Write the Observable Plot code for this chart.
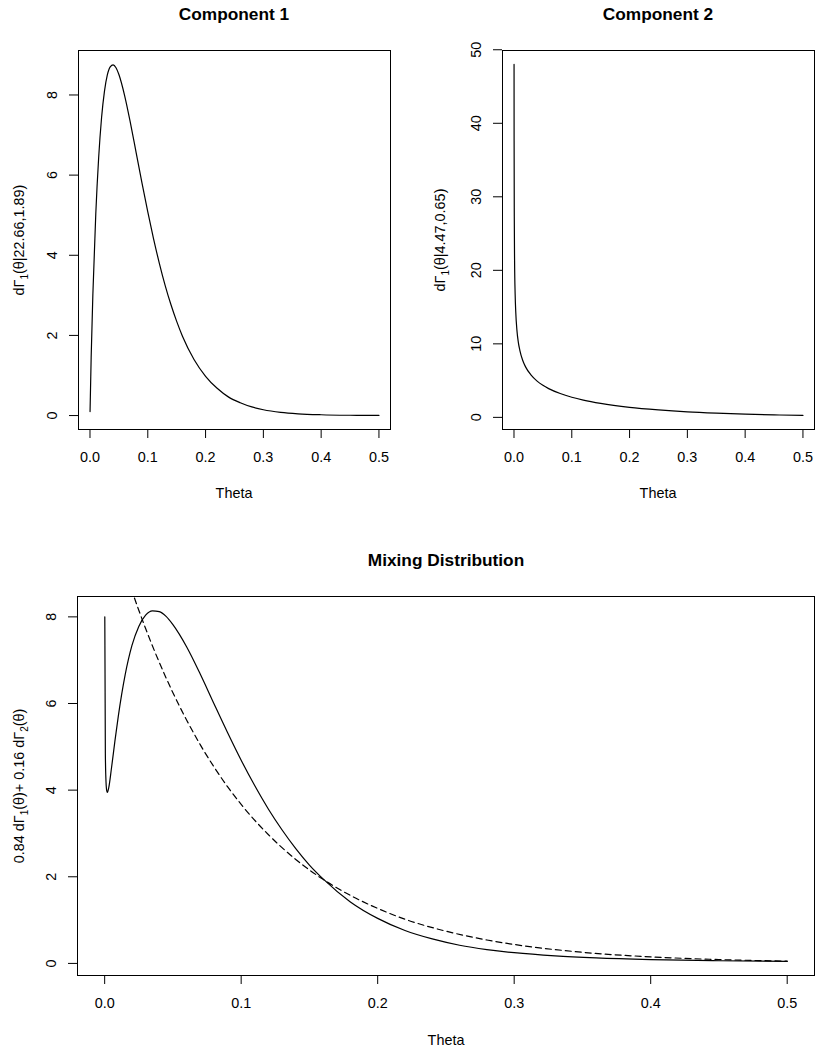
<!DOCTYPE html>
<html>
<head>
<meta charset="utf-8">
<script src="https://cdn.jsdelivr.net/npm/d3@7"></script>
<script src="https://cdn.jsdelivr.net/npm/@observablehq/plot@0.6"></script>
<style>
  html, body { margin: 0; padding: 0; background: #fff; }
  #wrap { position: relative; width: 817px; height: 1050px; background: #fff; overflow: hidden;
          font-family: "Liberation Sans", Arial, Helvetica, sans-serif; color: #000; }
  .panel { position: absolute; }
  .title { position: absolute; font-weight: bold; font-size: 17.3px; white-space: nowrap;
           transform: translate(-50%, -50%); line-height: 1; }
  .xlab { position: absolute; font-size: 14.4px; white-space: nowrap; transform: translate(-50%, -50%); line-height: 1; }
  .ylab { position: absolute; font-size: 14.4px; white-space: nowrap; line-height: 1;
          transform: translate(-50%, -50%) rotate(-90deg); }
  .sub { font-size: 10px; position: relative; top: 4px; }
</style>
</head>
<body>
<div id="wrap"></div>
<script>
// ---------- data ----------
const titles = ["Component 1", "Component 2", "Mixing Distribution"];
const xLabel = "Theta";
const xTicks = [0, 0.1, 0.2, 0.3, 0.4, 0.5];
const yTicksC1 = [0, 2, 4, 6, 8];
const yTicksC2 = [0, 10, 20, 30, 40, 50];
const yTicksMix = [0, 2, 4, 6, 8];

// Component 1 density
const thetaC1 = [0.0001, 0.002, 0.005, 0.01, 0.015, 0.02, 0.025, 0.03, 0.035, 0.04, 0.045, 0.05,
  0.06, 0.07, 0.08, 0.09, 0.1, 0.11, 0.12, 0.13, 0.14, 0.15, 0.16, 0.18, 0.2, 0.22, 0.24, 0.26,
  0.28, 0.3, 0.33, 0.36, 0.4, 0.45, 0.5];
const densC1 = [0.10, 1.44, 3.04, 5.03, 6.44, 7.43, 8.09, 8.50, 8.70, 8.75, 8.68, 8.51,
  7.98, 7.30, 6.55, 5.80, 5.08, 4.41, 3.80, 3.25, 2.77, 2.35, 1.98, 1.40, 0.98, 0.68, 0.46, 0.32,
  0.215, 0.145, 0.080, 0.044, 0.020, 0.007, 0.0025];

// Component 2 density
const thetaC2 = [0.0001, 0.0002, 0.0005, 0.001, 0.002, 0.003, 0.005, 0.0075, 0.01, 0.015, 0.02,
  0.03, 0.04, 0.05, 0.06, 0.08, 0.1, 0.12, 0.15, 0.2, 0.25, 0.3, 0.35, 0.4, 0.45, 0.5];
const densC2 = [48.0, 37.6, 27.3, 21.3, 16.7, 14.4, 11.9, 10.2, 9.16, 7.77, 6.87,
  5.70, 4.93, 4.36, 3.91, 3.24, 2.74, 2.35, 1.90, 1.37, 1.02, 0.76, 0.58, 0.44, 0.34, 0.26];

// Mixture density (solid)
const thetaMix = [0.0001, 0.0005, 0.001, 0.0015, 0.002, 0.003, 0.005, 0.0075, 0.01, 0.015, 0.02,
  0.025, 0.03, 0.035, 0.04, 0.045, 0.05, 0.06, 0.07, 0.08, 0.09, 0.1, 0.11, 0.12, 0.13, 0.14,
  0.15, 0.16, 0.18, 0.2, 0.22, 0.24, 0.26, 0.28, 0.3, 0.33, 0.36, 0.4, 0.45, 0.5];
const densMix = [8.00, 4.86, 4.18, 3.99, 3.95, 4.06, 4.51, 5.13, 5.71, 6.66, 7.34,
  7.78, 8.04, 8.14, 8.12, 8.01, 7.82, 7.31, 6.68, 6.00, 5.33, 4.69, 4.10, 3.56, 3.08, 2.65,
  2.27, 1.95, 1.42, 1.04, 0.76, 0.565, 0.42, 0.32, 0.247, 0.173, 0.127, 0.089, 0.062, 0.045];

// Comparison density (dashed)
const thetaExp = [0, 0.01, 0.02, 0.03, 0.04, 0.05, 0.06, 0.07, 0.08, 0.09, 0.1, 0.12, 0.14, 0.16,
  0.18, 0.2, 0.22, 0.25, 0.28, 0.3, 0.35, 0.4, 0.45, 0.5];
const densExp = [10.64, 9.57, 8.60, 7.73, 6.95, 6.25, 5.62, 5.05, 4.54, 4.08, 3.67, 2.97, 2.40, 1.94,
  1.57, 1.27, 1.02, 0.744, 0.541, 0.437, 0.257, 0.151, 0.089, 0.052];

// ---------- drawing ----------
const wrap = document.getElementById("wrap");
const rows = (xs, ys) => xs.map((t, i) => ({t, v: ys[i]}));
const FONT = "Liberation Sans, Arial, Helvetica, sans-serif";

function panel({left, top, width, height, mL, mR, mT, mB, xDom, yDom, yTicks, marks}) {
  const svg = Plot.plot({
    width, height,
    marginLeft: mL, marginRight: mR, marginTop: mT, marginBottom: mB,
    style: {fontFamily: FONT, fontSize: "14.4px", background: "transparent", overflow: "visible", color: "#000"},
    x: {domain: xDom, ticks: xTicks, tickFormat: d3.format(".1f"), tickSize: 9, tickPadding: 13, label: null},
    y: {domain: yDom, ticks: yTicks, tickFormat: d3.format("d"), tickSize: 9, tickPadding: 13, tickRotate: -90, label: null},
    marks: [
      ...marks,
      Plot.frame({stroke: "#000", strokeWidth: 1})
    ]
  });
  svg.classList.add("panel");
  svg.style.left = left + "px";
  svg.style.top = top + "px";
  wrap.appendChild(svg);
}

function addDiv(cls, html, x, y) {
  const d = document.createElement("div");
  d.className = cls;
  d.innerHTML = html;
  d.style.left = x + "px";
  d.style.top = y + "px";
  wrap.appendChild(d);
}

const xDom = [-0.0199, 0.52];

// Panel 1
panel({
  left: 0, top: 30, width: 410, height: 479, mL: 78, mR: 20, mT: 20, mB: 80,
  xDom, yDom: [-0.348, 9.11], yTicks: yTicksC1,
  marks: [Plot.line(rows(thetaC1, densC1), {x: "t", y: "v", stroke: "#000", strokeWidth: 1.2, curve: "monotone-x"})]
});
// Panel 2
panel({
  left: 410, top: 30, width: 407, height: 479, mL: 92, mR: 3, mT: 20, mB: 80,
  xDom, yDom: [-1.65, 49.9], yTicks: yTicksC2,
  marks: [Plot.line(rows(thetaC2, densC2), {x: "t", y: "v", stroke: "#000", strokeWidth: 1.2, curve: "monotone-x"})]
});
// Panel 3
panel({
  left: 0, top: 576, width: 817, height: 474, mL: 77, mR: 3, mT: 20, mB: 75,
  xDom, yDom: [-0.279, 8.47], yTicks: yTicksMix,
  marks: [
    Plot.line(rows(thetaMix, densMix), {x: "t", y: "v", stroke: "#000", strokeWidth: 1.2, curve: "monotone-x"}),
    Plot.line(rows(thetaExp, densExp), {x: "t", y: "v", stroke: "#000", strokeWidth: 1.2, strokeDasharray: "6,4", curve: "monotone-x", clip: true})
  ]
});

// Titles and axis labels
addDiv("title", titles[0], 234, 15);
addDiv("title", titles[1], 658, 15);
addDiv("title", titles[2], 446, 561);
addDiv("xlab", xLabel, 234, 493);
addDiv("xlab", xLabel, 658, 493);
addDiv("xlab", xLabel, 446, 1040);
addDiv("ylab", 'dΓ<span class="sub">1</span>(θ|22.66,1.89)', 19, 240);
addDiv("ylab", 'dΓ<span class="sub">1</span>(θ|4.47,0.65)', 440, 240);
addDiv("ylab", '0.84 dΓ<span class="sub">1</span>(θ)+ 0.16 dΓ<span class="sub">2</span>(θ)', 19, 786);
</script>
</body>
</html>
